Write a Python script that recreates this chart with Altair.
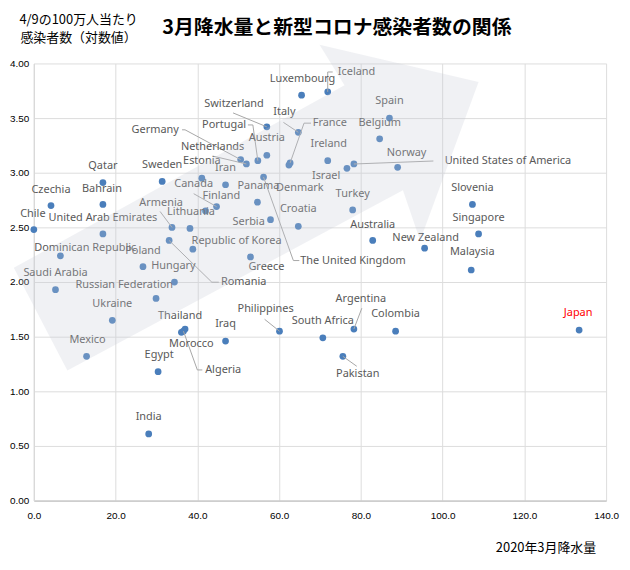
import altair as alt
import pandas as pd

# data: March 2020 rainfall vs log10(cases per million on 4/9)
countries = [
    "Luxembourg", "Iceland", "Switzerland", "Italy", "France", "Spain", "Belgium",
    "Ireland", "Norway", "United States of America", "Israel", "Germany", "Portugal",
    "Austria", "Netherlands", "Estonia", "Iran", "Canada", "Finland", "Sweden",
    "Panama", "Denmark", "The United Kingdom", "Croatia", "Serbia", "Turkey",
    "Australia", "New Zealand", "Slovenia", "Singapore", "Malaysia", "Qatar",
    "Bahrain", "Czechia", "Chile", "United Arab Emirates", "Armenia", "Lithuania",
    "Dominican Republic", "Poland", "Republic of Korea", "Romania", "Greece",
    "Hungary", "Saudi Arabia", "Russian Federation", "Ukraine", "Thailand",
    "Morocco", "Algeria", "Iraq", "Philippines", "South Africa", "Argentina",
    "Colombia", "Pakistan", "Japan", "Mexico", "Egypt", "India",
]
precip = [
    65.5, 71.9, 57.0, 64.7, 62.7, 87.0, 84.6,
    71.9, 89.0, 78.3, 76.6, 50.6, 54.8,
    57.0, 52.0, 41.1, 46.9, 44.7, 42.0, 31.4,
    54.7, 62.4, 56.2, 64.7, 57.9, 78.0,
    82.9, 95.6, 107.3, 108.8, 107.0, 16.9,
    16.9, 4.2, 0.0, 16.9, 33.8, 38.2,
    6.5, 26.7, 38.9, 33.1, 53.0,
    34.4, 5.3, 29.9, 19.2, 37.0,
    36.1, 36.6, 46.9, 60.1, 70.7, 78.3,
    88.5, 75.6, 133.4, 12.9, 30.4, 28.1,
]
cases_log = [
    3.71, 3.74, 3.42, 3.37, 3.09, 3.50, 3.31,
    3.11, 3.05, 3.08, 3.04, 3.12, 3.11,
    3.16, 3.08, 2.95, 2.89, 2.69, 2.65, 2.92,
    2.73, 3.07, 2.96, 2.51, 2.57, 2.66,
    2.38, 2.31, 2.71, 2.44, 2.11, 2.91,
    2.71, 2.70, 2.48, 2.44, 2.50, 2.49,
    2.24, 2.14, 2.30, 2.38, 2.23,
    2.00, 1.93, 1.85, 1.65, 1.57,
    1.54, 1.55, 1.46, 1.55, 1.49, 1.57,
    1.55, 1.32, 1.56, 1.32, 1.18, 0.61,
]

# label placement: pixel offset from the dot to the label centre
label_offset = {
    "Luxembourg": (1, -16), "Iceland": (29, -20), "Switzerland": (-33, -23),
    "Italy": (-14, -20), "France": (40, -40), "Spain": (0, -17), "Belgium": (0, -16),
    "Ireland": (1, -17), "Norway": (9, -14), "United States of America": (155, -3),
    "Israel": (-21, 8), "Germany": (-86, -30), "Portugal": (-34, -36),
    "Austria": (0, -17), "Netherlands": (-34, -17), "Estonia": (0, -17),
    "Iran": (0, -17), "Canada": (-23, -23), "Finland": (16, -15), "Sweden": (0, -17),
    "Panama": (1, -16), "Denmark": (11, 23), "The United Kingdom": (90, 84),
    "Croatia": (0, -17), "Serbia": (-22, 2), "Turkey": (0, -16),
    "Australia": (0, -16), "New Zealand": (1, -10), "Slovenia": (0, -17),
    "Singapore": (0, -16), "Malaysia": (1, -18), "Qatar": (0, -17),
    "Bahrain": (-1, -16), "Czechia": (0, -16), "Chile": (-1, -16),
    "United Arab Emirates": (0, -16), "Armenia": (-11, -25), "Lithuania": (1, -17),
    "Dominican Republic": (25, -8), "Poland": (0, -16), "Republic of Korea": (44, -8),
    "Romania": (75, 42), "Greece": (16, 10), "Hungary": (-1, -16),
    "Saudi Arabia": (0, -17), "Russian Federation": (-32, -13), "Ukraine": (0, -16),
    "Thailand": (-5, -13), "Morocco": (10, 12), "Algeria": (40, 39),
    "Iraq": (0, -17), "Philippines": (-14, -22), "South Africa": (0, -17),
    "Argentina": (7, -30), "Colombia": (0, -17), "Pakistan": (15, 18),
    "Japan": (-1, -17), "Mexico": (1, -16), "Egypt": (1, -17), "India": (0, -17),
}

# leader lines: pixel offsets of the bends, starting from the dot
leaders = {
    "Iceland": [(0, -20), (5, -20)],
    "Switzerland": [(-34, -14)],
    "Italy": [(-15, -10)],
    "France": [(14, -40), (21, -40)],
    "United States of America": [(80, -3)],
    "Germany": [(-56, -30), (-59, -30)],
    "Portugal": [(-5, -36), (-10, -36)],
    "Netherlands": [(-34, -8)],
    "Canada": [(-23, -13)],
    "The United Kingdom": [(30, 84), (36, 84)],
    "Armenia": [(-12, -16)],
    "Romania": [(43, 42), (50, 42)],
    "Algeria": [(14, 39), (19, 39)],
    "Philippines": [(-15, -12)],
    "Argentina": [(8, -21)],
    "Pakistan": [(14, 10)],
}

# the big faint arrow behind the cloud, in axis units
arrow_x = [8.2, -4.9, 76.0, 69.9, 108.8, 94.5, 90.3]
arrow_y = [1.19, 2.13, 3.80, 4.17, 3.83, 2.38, 2.84]

W, H = 576, 440
X_MAX, Y_MAX = 140, 4
kx, ky = W / X_MAX, H / Y_MAX
FONT = "Noto Sans"
JP = "Noto Sans CJK JP"

df = pd.DataFrame({"country": countries, "precip": precip, "cases": cases_log})
df["lx"] = [p + label_offset[c][0] / kx for c, p in zip(countries, precip)]
df["ly"] = [v - label_offset[c][1] / ky for c, v in zip(countries, cases_log)]

rows = []
for c, p, v in zip(countries, precip, cases_log):
    if c in leaders:
        for i, (dx, dy) in enumerate([(0, 0)] + leaders[c]):
            rows.append({"country": c, "i": i, "x": p + dx / kx, "y": v - dy / ky})
leader_df = pd.DataFrame(rows)

arrow_df = pd.DataFrame({"i": range(len(arrow_x)), "x": arrow_x, "y": arrow_y})
one = pd.DataFrame({"k": [0]})

x_scale = alt.Scale(domain=[0, X_MAX], nice=False, zero=False)
y_scale = alt.Scale(domain=[0, Y_MAX], nice=False, zero=False)

points = alt.Chart(df).mark_circle(size=46, color="#4a7ebb", opacity=1).encode(
    x=alt.X("precip:Q", scale=x_scale, axis=alt.Axis(
        title=None, values=[0, 20, 40, 60, 80, 100, 120, 140], format=".1f",
        domainColor="#bfbfbf", ticks=False, labelPadding=10, labelFlush=False,
        gridOpacity=alt.condition("datum.value >= 140", alt.value(0), alt.value(1)),
    )),
    y=alt.Y("cases:Q", scale=y_scale, axis=alt.Axis(
        title=None, values=[0, 0.5, 1, 1.5, 2, 2.5, 3, 3.5, 4], format=".2f",
        domainColor="#d9d9d9", ticks=False, labelPadding=5, labelFlush=False,
        gridOpacity=alt.condition("datum.value >= 4", alt.value(0), alt.value(1)),
    )),
)

leader_lines = alt.Chart(leader_df).mark_line(color="#a6a6a6", strokeWidth=1).encode(
    x=alt.X("x:Q", scale=x_scale),
    y=alt.Y("y:Q", scale=y_scale),
    detail="country:N",
    order="i:Q",
)

labels = alt.Chart(df).mark_text(font=FONT, fontSize=11, baseline="middle").encode(
    x=alt.X("lx:Q", scale=x_scale),
    y=alt.Y("ly:Q", scale=y_scale),
    text="country:N",
    color=alt.condition(alt.datum.country == "Japan", alt.value("#ff0000"), alt.value("#595959")),
)

arrow = alt.Chart(arrow_df).mark_line(
    fill="#c4c9d6", fillOpacity=0.26, strokeWidth=0, stroke="transparent"
).encode(
    x=alt.X("x:Q", scale=x_scale),
    y=alt.Y("y:Q", scale=y_scale),
    order="i:Q",
)

title = alt.Chart(one).mark_text(
    text="3月降水量と新型コロナ感染者数の関係", font=JP, fontSize=20,
    fontWeight="bold", color="#000000", baseline="middle"
).encode(x=alt.value(305), y=alt.value(-36))

y_title = alt.Chart(one).mark_text(
    text=["4/9の100万人当たり", "感染者数（対数値）"], font=JP, fontSize=13,
    color="#000000", baseline="middle", lineHeight=18
).encode(x=alt.value(45), y=alt.value(-44))

x_title = alt.Chart(one).mark_text(
    text="2020年3月降水量", font=JP, fontSize=13, color="#000000",
    baseline="middle", align="right"
).encode(x=alt.value(566), y=alt.value(48 + H))

chart = alt.layer(
    points, leader_lines, labels, arrow, title, y_title, x_title
).properties(
    width=W, height=H,
    autosize=alt.AutoSizeParams(type="none"),
    padding={"left": 26, "top": 54, "right": 16, "bottom": 60},
).configure_view(stroke=None).configure_axis(
    gridColor="#e6e6e6", labelColor="#595959", labelFont=FONT, labelFontSize=10.5,
    domainWidth=1,
).configure(background="white")

chart.save("out.html", embed_options={"renderer": "svg", "actions": False})
